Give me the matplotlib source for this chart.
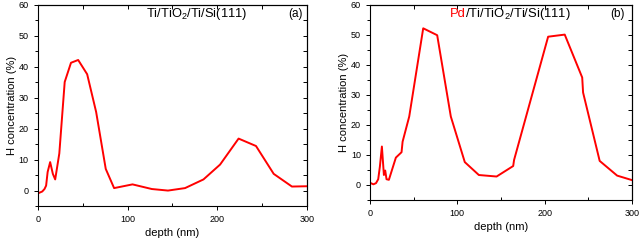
import matplotlib
matplotlib.use("Agg")
import matplotlib.pyplot as plt
from matplotlib.ticker import MultipleLocator

plt.rcParams["font.family"] = ["Liberation Sans", "DejaVu Sans"]
plt.rcParams["mathtext.fontset"] = "custom"
plt.rcParams["mathtext.rm"] = "Liberation Sans"

# panel (a): Ti/TiO2/Ti/Si(111)
depth_a = [1, 5, 7.5, 9.3, 11, 13.8, 16.8, 19.4, 24, 30, 37, 45, 55, 65, 75.7,
           85, 105.5, 127, 145, 164, 184.5, 203, 223.6, 243, 262.7, 283, 300]
conc_a = [-0.8, -0.3, 0.5, 1.6, 6, 9.2, 5.4, 3.6, 12, 35.1, 41.3, 42.2, 37.6, 25.4, 7,
          0.8, 2, 0.5, 0, 0.8, 3.6, 8.4, 16.8, 14.4, 5.4, 1.3, 1.4]

# panel (b): Pd/Ti/TiO2/Ti/Si(111)
depth_b = [0, 1, 4, 7, 9.5, 11.4, 13.7, 16, 17.5, 19, 21.7, 29.7, 36.2, 37.4, 45,
           61, 77, 92.6, 108.6, 124.7, 145, 164, 165, 204, 223, 243, 244, 263, 283, 300]
conc_b = [0.2, 0.6, 0.2, 0.6, 1.9, 6.1, 12.8, 3.3, 4.8, 1.9, 1.7, 9.1, 10.9, 14.4, 22.8,
          52.2, 49.9, 22.8, 7.6, 3.3, 2.8, 6.3, 8.3, 49.4, 50.1, 35.8, 30.8, 8, 3.1, 1.6]

fig = plt.figure(figsize=(6.4, 2.45), dpi=100)
ax_a = fig.add_axes([0.059, 0.159, 0.421, 0.821])
ax_b = fig.add_axes([0.578, 0.184, 0.4095, 0.796])


def style_axes(ax):
    ax.set_xlim(0, 300)
    ax.set_ylim(-5, 60)
    ax.xaxis.set_major_locator(MultipleLocator(100))
    ax.xaxis.set_minor_locator(MultipleLocator(50))
    ax.yaxis.set_major_locator(MultipleLocator(10))
    ax.yaxis.set_minor_locator(MultipleLocator(5))
    ax.tick_params(which="both", labelsize=6.5, width=0.7)
    ax.tick_params(which="major", length=3)
    ax.tick_params(which="minor", length=2)
    # left / bottom ticks point out, top / right ticks point in
    ax.tick_params(which="both", axis="y", direction="out")
    ax.tick_params(which="major", axis="x", direction="out")
    ax.tick_params(which="minor", axis="x", direction="in")
    for s in ax.spines.values():
        s.set_linewidth(0.8)
    twin_x = ax.secondary_xaxis("top")
    twin_x.xaxis.set_major_locator(MultipleLocator(50))
    twin_x.tick_params(direction="in", length=3, width=0.7, labeltop=False)
    twin_y = ax.secondary_yaxis("right")
    twin_y.yaxis.set_major_locator(MultipleLocator(5))
    twin_y.tick_params(direction="in", length=3, width=0.7, labelright=False)
    ax.set_xlabel("depth (nm)", fontsize=8, labelpad=3)
    ax.set_ylabel("H concentration (%)", fontsize=8, labelpad=1.5)


for ax, x, y in [(ax_a, depth_a, conc_a), (ax_b, depth_b, conc_b)]:
    ax.plot(x, y, color="red", linewidth=1.4)
    style_axes(ax)

ax_a.text(0.40, 0.94, "Ti/TiO$_2$/Ti/Si(111)", transform=ax_a.transAxes,
          fontsize=9.3, va="baseline", ha="left")
ax_a.text(0.985, 0.94, "(a)", transform=ax_a.transAxes, fontsize=8.5,
          va="baseline", ha="right")

pd_txt = ax_b.text(0.305, 0.94, "Pd", transform=ax_b.transAxes, fontsize=9.4,
                   va="baseline", ha="left", color="red")
fig.canvas.draw()
bb = pd_txt.get_window_extent()
x_next = ax_b.transAxes.inverted().transform((bb.x1 - 0.5, bb.y0))[0]
ax_b.text(x_next, 0.94, "/Ti/TiO$_2$/Ti/Si(111)", transform=ax_b.transAxes,
          fontsize=9.4, va="baseline", ha="left")
ax_b.text(0.973, 0.94, "(b)", transform=ax_b.transAxes, fontsize=8.5,
          va="baseline", ha="right")

fig.savefig("out.png", dpi=100)
